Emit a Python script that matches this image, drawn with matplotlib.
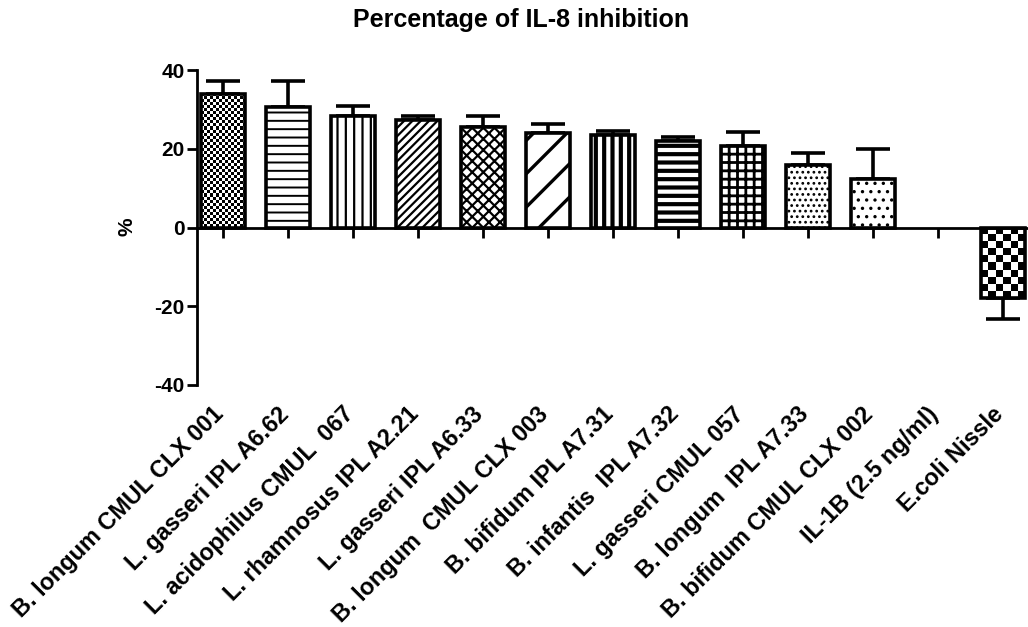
import numpy as np
import matplotlib
matplotlib.use("Agg")
import matplotlib.pyplot as plt

plt.rcParams['font.family'] = ['Liberation Sans', 'DejaVu Sans']
plt.rcParams['hatch.linewidth'] = 1.6

categories = ["B. longum CMUL CLX 001", "L. gasseri IPL A6.62", "L. acidophilus CMUL  067",
              "L. rhamnosus IPL A2.21", "L. gasseri IPL A6.33", "B. longum  CMUL CLX 003",
              "B. bifidum IPL A7.31", "B. infantis  IPL A7.32", "L. gasseri CMUL 057",
              "B. longum  IPL A7.33", "B. bifidum CMUL CLX 002", "IL-1B (2.5 ng/ml)",
              "E.coli Nissle"]
values = [33.8, 30.7, 28.4, 27.2, 25.6, 24.1, 23.6, 21.9, 20.7, 16.0, 12.4, 0.0, -17.8]
errors = [3.3, 6.4, 2.4, 1.1, 2.6, 2.3, 1.0, 1.0, 3.5, 2.9, 7.5, 0.0, 5.5]
hatches = [None, '--', '||', '////', 'xxx', '/', '||', '--', '++', '...', '..', None, None]
hatch_lw = [1.6, 1.4, 1.6, 1.6, 1.6, 2.4, 3.0, 3.0, 2.0, 1.2, 1.2, 1.6, 1.6]
checker_px = {0: 3.0, 12: 7.0}
yticks = [-40, -20, 0, 20, 40]
title = "Percentage of IL-8 inhibition"
ylabel = "%"

W, H = 1028, 627
fig = plt.figure(figsize=(W / 100, H / 100), dpi=100)
ax = fig.add_axes([197 / W, 1 - 385 / H, (1029 - 197) / W, (385 - 70) / H])
x = np.arange(len(categories))
ax.set_xlim(-0.4, 12.4)
ax.set_ylim(-40, 40)

bars = ax.bar(x, values, width=0.69, color='white', edgecolor='black', linewidth=2.6, zorder=3)
for i, (b, h) in enumerate(zip(bars, hatches)):
    if h:
        b.set_hatch(h)
        if hasattr(b, 'set_hatch_linewidth'):
            b.set_hatch_linewidth(hatch_lw[i])
    if i in checker_px:
        b.set_facecolor('none')
    if values[i] == 0:
        b.set_visible(False)

# error bars (one-sided, away from zero)
for xi, v, e in zip(x, values, errors):
    if e == 0:
        continue
    if v >= 0:
        ax.errorbar([xi], [v], yerr=[[0], [e]], fmt='none', ecolor='black',
                    elinewidth=2.6, capsize=12, capthick=2.6, zorder=2)
    else:
        ax.errorbar([xi], [v], yerr=[[e], [0]], fmt='none', ecolor='black',
                    elinewidth=2.6, capsize=12, capthick=2.6, zorder=2)

# checkerboard fills
for i, cpx in checker_px.items():
    b = bars[i]
    x0, y0, bw, bh = b.get_x(), b.get_y(), b.get_width(), b.get_height()
    p0 = ax.transData.transform((x0, y0))
    p1 = ax.transData.transform((x0 + bw, y0 + bh))
    nx = max(1, int(round(abs(p1[0] - p0[0]) / cpx)))
    ny = max(1, int(round(abs(p1[1] - p0[1]) / cpx)))
    arr = (np.add.outer(np.arange(ny), np.arange(nx)) % 2).astype(float)
    ymin, ymax = min(y0, y0 + bh), max(y0, y0 + bh)
    im = ax.imshow(arr, cmap='gray', vmin=0, vmax=1, interpolation='nearest',
                   extent=(x0, x0 + bw, ymin, ymax), aspect='auto', zorder=2.5)
ax.set_xlim(-0.4, 12.4)
ax.set_ylim(-40, 40)

for s in ['top', 'right']:
    ax.spines[s].set_visible(False)
ax.spines['left'].set_linewidth(2.0)
ax.spines['bottom'].set_linewidth(2.0)
ax.spines['bottom'].set_position(('data', 0))
ax.spines['bottom'].set_zorder(4)
ax.set_yticks(yticks)
ax.set_yticklabels([str(t) for t in yticks], fontsize=15, fontweight='bold')
ax.tick_params(axis='y', direction='out', length=7, width=2.0, pad=2)
ax.set_xticks(x)
ax.set_xticklabels([''] * len(x))
ax.tick_params(axis='x', direction='out', length=7, width=2.0)

for xi, lab in zip(x, categories):
    ax.text(xi - 0.17, -44.5, lab, rotation=45, rotation_mode='anchor',
            ha='right', va='top', fontsize=16.8, fontweight='bold')

fig.text(127 / W, 1 - 227 / H, ylabel, rotation=90, ha='center', va='center',
         fontsize=15, fontweight='bold')
fig.text(521 / W, 1 - 20 / H, title, ha='center', va='center', fontsize=18, fontweight='bold')

fig.savefig('out.png', dpi=100)
